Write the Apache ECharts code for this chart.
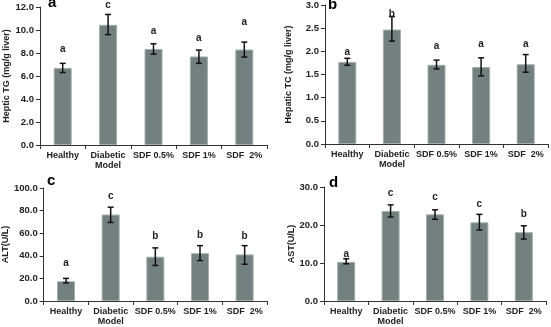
<!DOCTYPE html>
<html>
<head>
<meta charset="utf-8">
<script src="https://cdn.jsdelivr.net/npm/echarts@6/dist/echarts.min.js"></script>
<style>html,body{margin:0;padding:0;background:#fff}#c{width:551px;height:327px}</style>
</head>
<body>
<div id="c"></div>
<script>
// ---------- data ----------
const categories = ['Healthy', 'Diabetic\nModel', 'SDF 0.5%', 'SDF 1%', 'SDF  2%'];

// panel a: Hepatic TG
const tgMean = [6.7, 10.45, 8.35, 7.7, 8.3];
const tgLow  = [6.3, 9.6, 7.9, 7.1, 7.65];
const tgHigh = [7.1, 11.35, 8.8, 8.25, 8.95];
const tgLetters = ['a', 'c', 'a', 'a', 'a'];
const tgLetterY = [8.35, 12.15, 9.85, 9.3, 10.7];

// panel b: Hepatic TC
const tcMean = [1.77, 2.47, 1.71, 1.66, 1.72];
const tcLow  = [1.7, 2.22, 1.62, 1.47, 1.55];
const tcHigh = [1.85, 2.75, 1.81, 1.86, 1.93];
const tcLetters = ['a', 'b', 'a', 'a', 'a'];
const tcLetterY = [1.98, 2.8, 2.12, 2.16, 2.16];

// panel c: ALT
const altMean = [17.5, 76.5, 39.2, 42.3, 41.2];
const altLow  = [16.0, 69.5, 31.5, 35.8, 32.5];
const altHigh = [20.0, 83.0, 47.0, 49.0, 49.0];
const altLetters = ['a', 'c', 'b', 'b', 'b'];
const altLetterY = [33.6, 92.7, 57.0, 58.5, 57.0];

// panel d: AST
const astMean = [10.3, 23.7, 22.8, 20.7, 18.1];
const astLow  = [9.8, 22.1, 21.5, 18.7, 16.3];
const astHigh = [11.1, 25.3, 24.0, 22.8, 19.8];
const astLetters = ['a', 'c', 'c', 'c', 'b'];
const astLetterY = [12.4, 28.3, 27.4, 25.5, 22.9];

// axis settings
const yNames = ['Heptic TG (mg/g liver)', 'Hepatic TC (mg/g liver)', 'ALT(U/L)', 'AST(U/L)'];
const yMax = [12, 3, 100, 30];
const yInterval = [2, 0.5, 20, 10];
const panelLabels = ['a', 'b', 'c', 'd'];

// ---------- chart ----------
const chart = echarts.init(document.getElementById('c'));
const FONT = 'Liberation Sans, Arial, sans-serif';
const TXT = '#222';

const grids = [
  {left: 40, top: 7, width: 227, height: 138},
  {left: 325, top: 4, width: 223, height: 140},
  {left: 40, top: 188, width: 227, height: 114},
  {left: 324, top: 187, width: 222, height: 115}
];
const nameGaps = [29, 32, 28, 27];

const panels = [
  [tgMean, tgLow, tgHigh, tgLetters, tgLetterY],
  [tcMean, tcLow, tcHigh, tcLetters, tcLetterY],
  [altMean, altLow, altHigh, altLetters, altLetterY],
  [astMean, astLow, astHigh, astLetters, astLetterY]
];

const xAxes = [], yAxes = [], series = [];
panels.forEach((p, i) => {
  xAxes.push({
    type: 'category', gridIndex: i, data: categories,
    axisLine: {lineStyle: {color: '#333', width: 1}},
    axisTick: {show: true, length: 4, lineStyle: {color: '#333'}},
    axisLabel: {color: TXT, fontFamily: FONT, fontWeight: 'bold', fontSize: 9, lineHeight: 10, margin: 6, interval: 0}
  });
  yAxes.push({
    type: 'value', gridIndex: i, min: 0, max: yMax[i], interval: yInterval[i],
    name: yNames[i], nameLocation: 'middle', nameGap: nameGaps[i],
    nameTextStyle: {color: TXT, fontFamily: FONT, fontWeight: 'bold', fontSize: 9},
    axisLine: {show: true, lineStyle: {color: '#333', width: 1}},
    axisTick: {show: true, length: 4, lineStyle: {color: '#333'}},
    splitLine: {show: false},
    axisLabel: {color: TXT, fontFamily: FONT, fontWeight: 'bold', fontSize: 9.5, margin: 6,
      formatter: v => v.toFixed(1)}
  });
  const [mean, low, high, letters, letterY] = p;
  series.push({
    type: 'bar', xAxisIndex: i, yAxisIndex: i, data: mean, barWidth: 18,
    itemStyle: {color: '#728080', borderColor: '#a3adad', borderWidth: 1}
  });
  series.push({
    type: 'custom', xAxisIndex: i, yAxisIndex: i, clip: false, z: 5,
    data: mean.map((m, k) => [k, low[k], high[k], letterY[k]]),
    renderItem: (params, api) => {
      const k = api.value(0);
      const lo = api.coord([k, api.value(1)]);
      const hi = api.coord([k, api.value(2)]);
      const lt = api.coord([k, api.value(3)]);
      const hw = 3;
      const st = {stroke: '#111', lineWidth: 1.5};
      return {
        type: 'group',
        children: [
          {type: 'line', shape: {x1: lo[0], y1: lo[1], x2: hi[0], y2: hi[1]}, style: st},
          {type: 'line', shape: {x1: lo[0] - hw, y1: lo[1], x2: lo[0] + hw, y2: lo[1]}, style: st},
          {type: 'line', shape: {x1: hi[0] - hw, y1: hi[1], x2: hi[0] + hw, y2: hi[1]}, style: st},
          {type: 'text', style: {text: letters[k], x: lt[0], y: lt[1], textAlign: 'center',
            textVerticalAlign: 'middle', font: 'bold 10px ' + FONT, fill: TXT}}
        ]
      };
    }
  });
});

const labelPos = [[48, 3], [328, 5], [47, 181], [329, 183]];
const graphic = panelLabels.map((t, i) => ({
  type: 'text', left: labelPos[i][0], top: labelPos[i][1] - 8,
  style: {text: t, font: 'bold 15px ' + FONT, fill: '#000'}
}));

chart.setOption({
  animation: false,
  grid: grids,
  xAxis: xAxes,
  yAxis: yAxes,
  series: series,
  graphic: graphic
});
</script>
</body>
</html>
